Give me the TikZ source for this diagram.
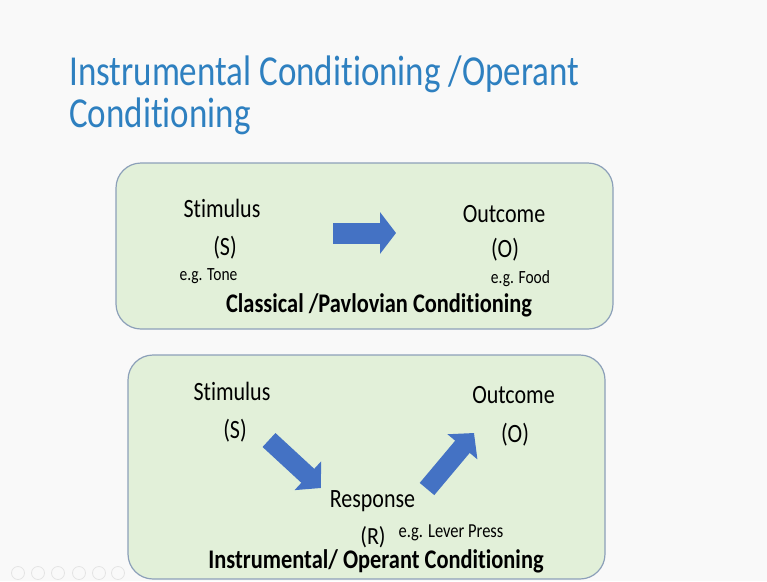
\documentclass[tikz,border=0pt]{standalone}
\usepackage{fontspec}
\setmainfont{Carlito}[Ligatures={NoCommon,NoContextual}]
\usetikzlibrary{arrows.meta}
\definecolor{bgc}{RGB}{249,249,249}
\definecolor{titleblue}{RGB}{46,128,192}
\definecolor{boxfill}{RGB}{226,240,217}
\definecolor{boxline}{RGB}{140,160,185}
\definecolor{arrowblue}{RGB}{68,114,196}
\definecolor{iconline}{RGB}{228,228,228}
\newcommand{\vst}[2][1.2]{\scalebox{1}[#1]{#2}}
\begin{document}
\begin{tikzpicture}[x=1pt,y=-1pt,
  lbl/.style={inner sep=0pt, anchor=base, font=\fontsize{22}{26}\selectfont},
  small/.style={inner sep=0pt, anchor=base, font=\fontsize{15.5}{18}\selectfont},
  capt/.style={inner sep=0pt, anchor=base, font=\bfseries\fontsize{22.4}{26}\selectfont},
  ttl/.style={inner sep=0pt, anchor=base west, text=titleblue, font=\fontsize{35}{40}\selectfont},
  panel/.style={draw=boxline, fill=boxfill, line width=1.2pt, rounded corners=25pt, inner sep=0pt},
  fatarrow/.style={arrowblue, line width=21pt, -{Triangle[length=16pt,width=41pt]}},
  diagarrow/.style={arrowblue, line width=19pt, -{Triangle[length=18pt,width=38pt]}},
  icon/.style={draw=iconline, line width=0.8pt, circle, minimum size=13pt, inner sep=0pt}
]
\useasboundingbox (0,0) rectangle (767,581);
\fill[bgc] (0,0) rectangle (767,581);

% title
\node[ttl] (t1) at (69,85) {\vst[1.22]{Instrumental Conditioning /Operant}};
\node[ttl] (t2) at (69,127.5) {\vst[1.22]{Conditioning}};

% panels
\node[panel, minimum width=497pt, minimum height=166pt] (box1) at (364.5,246) {};
\node[panel, minimum width=477pt, minimum height=224pt] (box2) at (366.5,467) {};

% top panel
\node[lbl] (s1) at (222,217.5) {\vst{Stimulus}};
\node[lbl] (s1b) at (225,255) {\vst{(S)}};
\node[small] (s1c) at (208.5,280) {\vst{e.g. Tone}};
\node[lbl] (o1) at (504,222) {\vst{Outcome}};
\node[lbl] (o1b) at (505,257) {\vst{(O)}};
\node[small] (o1c) at (520.5,283) {\vst{e.g. Food}};
\node[capt] (cap1) at (379,312) {\vst{Classical /Pavlovian Conditioning}};

\coordinate (a1s) at (333,233);
\coordinate (a1e) at (396,233);
\draw[fatarrow] (a1s) -- (a1e);

% bottom panel
\node[lbl] (s2) at (232,400) {\vst{Stimulus}};
\node[lbl] (s2b) at (235,438) {\vst{(S)}};
\node[lbl] (o2) at (513.5,403) {\vst{Outcome}};
\node[lbl] (o2b) at (515,442) {\vst{(O)}};
\node[lbl] (r2) at (372.5,507) {\vst{Response}};
\node[lbl] (r2b) at (373,544) {\vst[1.12]{(R)}};
\node[small, font=\fontsize{16.5}{19}\selectfont] (r2c) at (451,537) {\vst{e.g. Lever Press}};
\node[capt] (cap2) at (376,568) {\vst{Instrumental/ Operant Conditioning}};

\coordinate (a2s) at (269,440);
\coordinate (a2e) at (321,488);
\coordinate (a3s) at (427,489);
\coordinate (a3e) at (474,433);
\draw[diagarrow] (a2s) -- (a2e);
\draw[diagarrow] (a3s) -- (a3e);

% faint presenter controls
\foreach \i/\xx in {1/18,2/38,3/58,4/79,5/99,6/118}{
  \node[icon] (ic\i) at (\xx,573) {};
}
\end{tikzpicture}
\end{document}
